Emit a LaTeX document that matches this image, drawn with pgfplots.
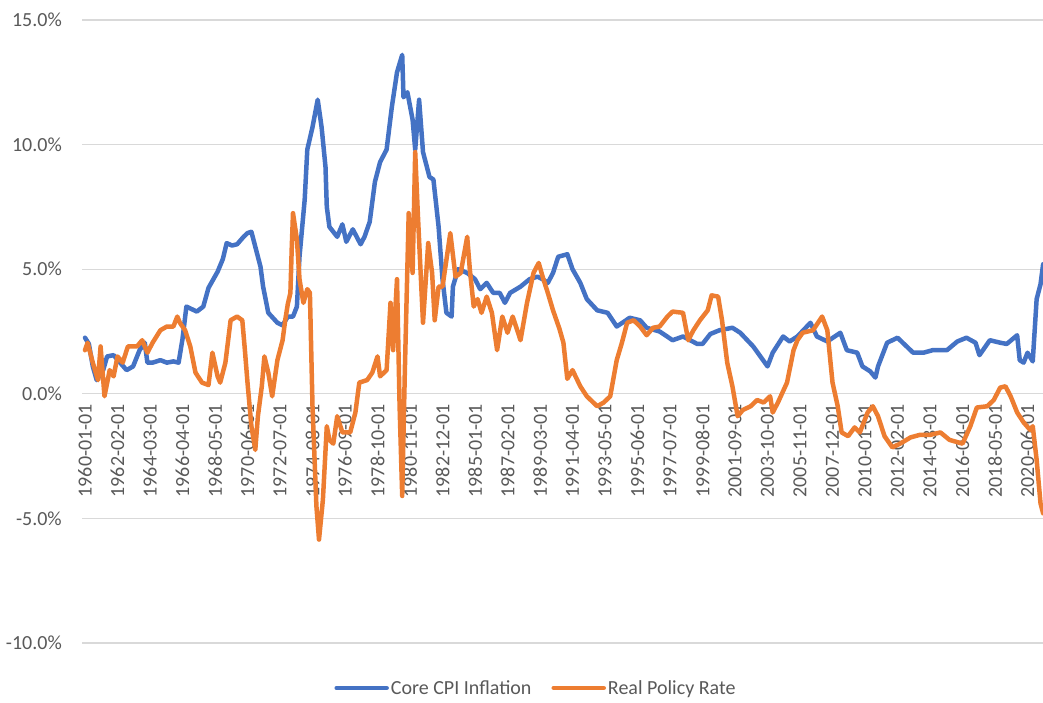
\documentclass[border=0pt]{standalone}
\usepackage{fontspec}
\setmainfont{Carlito}
\usepackage{pgfplots}
\pgfplotsset{compat=1.18}
\definecolor{cpiblue}{HTML}{4472C4}
\definecolor{rateorange}{HTML}{ED7D31}
\definecolor{gridgray}{HTML}{D9D9D9}
\definecolor{labelgray}{HTML}{595959}
\begin{document}
\begin{tikzpicture}
\path[use as bounding box] (0pt,0pt) rectangle (1043pt,702pt);
\begin{axis}[
  at={(82pt,59pt)}, anchor=south west,
  scale only axis, width=961pt, height=623pt,
  xmin=-2.3, xmax=736.9, ymin=-10, ymax=15,
  axis x line*=middle, axis y line*=left,
  x axis line style={draw=gridgray, line width=1.3pt},
  y axis line style={draw=none},
  major tick length=0pt,
  ytick={-10,-5,0,5,10,15},
  yticklabels={-10.0\%,-5.0\%,0.0\%,5.0\%,10.0\%,15.0\%},
  xtick={0,25,...,725},
  xticklabels={1960-01-01,1962-02-01,1964-03-01,1966-04-01,1968-05-01,1970-06-01,1972-07-01,1974-08-01,1976-09-01,1978-10-01,1980-11-01,1982-12-01,1985-01-01,1987-02-01,1989-03-01,1991-04-01,1993-05-01,1995-06-01,1997-07-01,1999-08-01,2001-09-01,2003-10-01,2005-11-01,2007-12-01,2010-01-01,2012-02-01,2014-03-01,2016-04-01,2018-05-01,2020-06-01},
  ymajorgrids,
  grid style={draw=gridgray, line width=1.3pt},
  yticklabel style={font=\fontsize{20}{24}\selectfont, text=labelgray, inner sep=0pt, anchor=east, xshift=-20pt},
  xticklabel style={font=\fontsize{20}{24}\selectfont, text=labelgray, inner sep=0pt, yshift=-10pt, rotate=90, anchor=east},
  legend style={draw=none, fill=none, at={(0.4724,-0.0722)}, anchor=center, legend columns=2,
    font=\fontsize{20}{24}\selectfont, text=labelgray,
    /tikz/every even column/.append style={column sep=18pt}},
  legend cell align=left,
  legend image code/.code={\draw[#1, line width=4.5pt] (0pt,0pt) -- (50pt,0pt);},
  every axis plot/.append style={line width=4.5pt, line join=round, line cap=round},
]
\addplot[cpiblue] coordinates {
(0,2.25)(3,2.0)(6,1.1)(9,0.55)(14,0.95)(17,1.5)(22,1.55)(27,1.25)(32,0.95)(37,1.1)(42,1.75)(46,2.05)(48,1.25)(52,1.25)(58,1.35)(63,1.25)(68,1.3)(72,1.25)(75,2.2)(78,3.5)(82,3.4)(86,3.3)(91,3.5)(95,4.25)(102,4.9)(106,5.4)(109,6.05)(113,5.95)(117,6.0)(122,6.3)(125,6.45)(128,6.5)(131,5.9)(135,5.1)(137,4.3)(141,3.25)(148,2.85)(152,2.75)(156,3.1)(160,3.1)(163,3.5)(165,5.5)(169,7.8)(171,9.8)(175,10.7)(179,11.8)(182,10.7)(185,9.1)(186,7.5)(188,6.7)(194,6.3)(198,6.8)(201,6.1)(206,6.6)(212,6.0)(215,6.3)(219,6.9)(223,8.5)(227,9.3)(232,9.8)(236,11.5)(240,12.9)(244,13.6)(245,11.9)(248,12.1)(252,11.0)(254,9.8)(257,11.8)(260,9.7)(265,8.7)(268,8.6)(272,6.7)(275,4.6)(278,3.25)(282,3.1)(283,4.3)(287,5.0)(294,4.85)(300,4.6)(304,4.2)(309,4.45)(314,4.05)(319,4.05)(323,3.65)(327,4.05)(335,4.3)(342,4.6)(348,4.7)(352,4.6)(356,4.45)(360,4.85)(364,5.5)(371,5.6)(375,5.0)(381,4.45)(386,3.8)(394,3.35)(402,3.25)(409,2.7)(419,3.05)(427,2.95)(432,2.65)(442,2.5)(452,2.15)(460,2.3)(471,2.0)(475,2.0)(481,2.4)(488,2.55)(498,2.65)(504,2.45)(514,1.9)(525,1.1)(529,1.65)(537,2.3)(542,2.1)(548,2.3)(558,2.85)(563,2.3)(571,2.1)(581,2.45)(586,1.75)(594,1.65)(598,1.1)(604,0.9)(608,0.65)(610,1.1)(617,2.05)(625,2.25)(632,1.9)(637,1.65)(645,1.65)(652,1.75)(663,1.75)(671,2.1)(678,2.25)(685,2.05)(688,1.55)(696,2.15)(704,2.05)(709,2.0)(717,2.35)(719,1.35)(722,1.25)(725,1.65)(729,1.3)(732,3.8)(735,4.4)(737,5.2)
};
\addlegendentry{Core CPI Inflation}
\addplot[rateorange] coordinates {
(0,1.75)(2,2.05)(6,1.25)(10,0.55)(12,1.9)(15,-0.1)(19,0.95)(22,0.7)(25,1.5)(29,1.25)(33,1.9)(40,1.9)(44,2.15)(48,1.65)(52,2.05)(58,2.55)(63,2.7)(68,2.7)(71,3.1)(73,2.85)(77,2.55)(81,1.9)(85,0.85)(90,0.45)(95,0.35)(98,1.65)(102,0.7)(104,0.45)(108,1.25)(112,2.95)(117,3.1)(121,2.95)(123,1.75)(125,0.45)(128,-1.3)(131,-2.25)(133,-0.9)(136,0.3)(138,1.5)(141,0.85)(144,-0.1)(148,1.35)(152,2.15)(154,2.95)(156,3.6)(158,4.05)(159,5.8)(160,7.25)(163,6.2)(165,4.6)(168,3.65)(171,4.2)(173,4.05)(175,-0.5)(178,-4.5)(180,-5.85)(183,-4.25)(186,-1.3)(188,-1.85)(191,-2.0)(194,-0.9)(198,-1.55)(204,-1.55)(208,-0.75)(211,0.45)(217,0.55)(221,0.85)(225,1.5)(227,0.7)(232,0.95)(235,3.65)(237,1.75)(240,4.6)(242,-0.5)(244,-4.1)(246,0.85)(249,7.25)(252,4.85)(254,9.7)(256,7.25)(260,2.85)(264,6.05)(267,4.85)(269,2.95)(272,4.3)(275,4.3)(281,6.45)(285,4.7)(289,4.85)(294,6.3)(296,5.0)(299,3.5)(302,3.8)(305,3.25)(309,3.9)(313,3.25)(317,1.75)(321,3.1)(325,2.45)(329,3.1)(335,2.15)(340,3.65)(345,4.85)(349,5.25)(352,4.7)(356,4.05)(360,3.35)(365,2.6)(368,2.05)(371,0.6)(375,0.95)(381,0.3)(386,-0.1)(394,-0.5)(399,-0.35)(404,-0.1)(409,1.35)(413,2.05)(417,2.85)(422,2.95)(427,2.7)(432,2.35)(437,2.65)(442,2.7)(448,3.1)(452,3.3)(460,3.25)(464,2.15)(468,2.55)(473,2.95)(479,3.35)(482,3.95)(487,3.9)(490,2.95)(494,1.25)(498,0.3)(502,-0.9)(506,-0.65)(512,-0.5)(517,-0.25)(522,-0.35)(527,-0.1)(529,-0.75)(533,-0.35)(540,0.45)(545,1.75)(548,2.15)(552,2.45)(560,2.55)(567,3.1)(571,2.55)(575,0.45)(579,-0.5)(582,-1.55)(587,-1.7)(592,-1.35)(596,-1.55)(602,-0.75)(606,-0.5)(610,-0.9)(615,-1.7)(621,-2.15)(627,-2.0)(635,-1.75)(642,-1.65)(650,-1.65)(658,-1.55)(665,-1.85)(675,-2.0)(681,-1.3)(686,-0.55)(694,-0.5)(699,-0.25)(704,0.25)(708,0.3)(712,-0.1)(717,-0.75)(722,-1.15)(727,-1.45)(729,-1.3)(732,-2.65)(735,-4.4)(737,-4.8)
};
\addlegendentry{Real Policy Rate}
\end{axis}
\end{tikzpicture}
\end{document}
